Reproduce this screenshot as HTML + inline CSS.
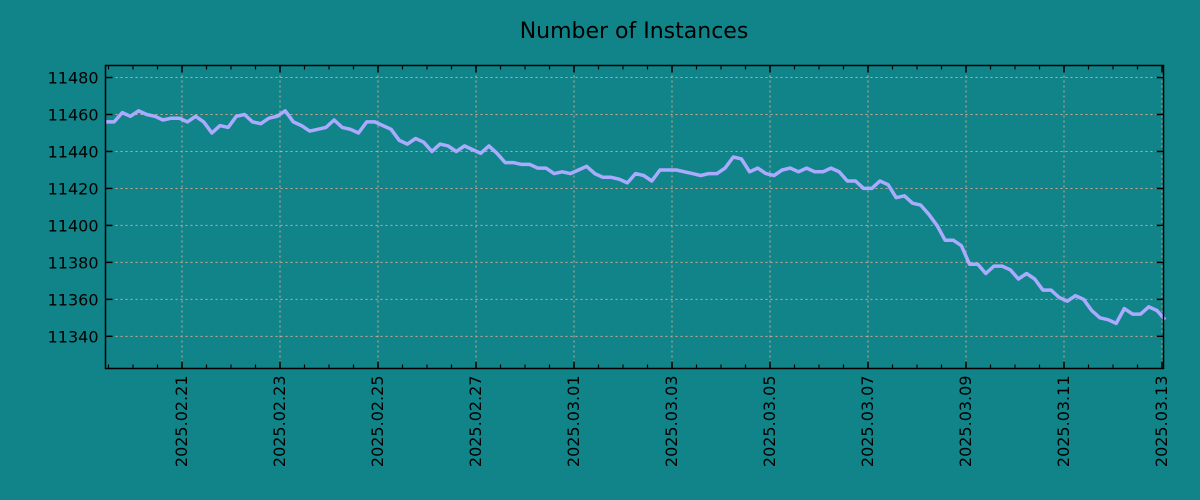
<!DOCTYPE html>
<html><head><meta charset="utf-8"><style>
html,body{margin:0;padding:0;background:#108488;}
svg{display:block;font-family:"DejaVu Sans","Liberation Sans",sans-serif;}
</style></head><body>
<svg id="chart" width="1200" height="500" viewBox="0 0 1200 500">
<rect x="0" y="0" width="1200" height="500" fill="#108488"/>
<text x="634" y="38" font-size="22" text-anchor="middle" fill="#000">Number of Instances</text>
<g id="grid"></g><g id="ticks"></g><g id="series"></g>
<rect x="105.5" y="65.5" width="1058" height="303" fill="none" stroke="#000" stroke-width="1.5"/>
</svg>
<script>
const startTime = Date.UTC(2025,1,19,10,46);
const endTime = Date.UTC(2025,2,13,1,30);
const values = [11456,11456,11461,11459,11462,11460,11459,11457,11458,11458,11456,11459,11456,11450,11454,11453,11459,11460,11456,11455,11458,11459,11462,11456,11454,11451,11452,11453,11457,11453,11452,11450,11456,11456,11454,11452,11446,11444,11447,11445,11440,11444,11443,11440,11443,11441,11439,11443,11439,11434,11434,11433,11433,11431,11431,11428,11429,11428,11430,11432,11428,11426,11426,11425,11423,11428,11427,11424,11430,11430,11430,11429,11428,11427,11428,11428,11431,11437,11436,11429,11431,11428,11427,11430,11431,11429,11431,11429,11429,11431,11429,11424,11424,11420,11420,11424,11422,11415,11416,11412,11411,11406,11400,11392,11392,11389,11379,11379,11374,11378,11378,11376,11371,11374,11371,11365,11365,11361,11359,11362,11360,11354,11350,11349,11347,11355,11352,11352,11356,11354,11349];
const yTicks = [11340,11360,11380,11400,11420,11440,11460,11480];
const xTickLabels = ["2025.02.21","2025.02.23","2025.02.25","2025.02.27","2025.03.01","2025.03.03","2025.03.05","2025.03.07","2025.03.09","2025.03.11","2025.03.13"];

const NS="http://www.w3.org/2000/svg";
const L=105.5,R=1163.5,T=65.5,B=368.5;
const DAY=86400000;
const x0=Date.UTC(2025,1,21), pxPerDay=49, xRef=182;
function xScale(t){return xRef+(t-x0)/DAY*pxPerDay;}
const yMin=11322.6,yMax=11486.5;
function yScale(v){return B-(v-yMin)/(yMax-yMin)*(B-T);}
function mk(tag,attrs,parent){const e=document.createElementNS(NS,tag);for(const k in attrs)e.setAttribute(k,attrs[k]);parent.appendChild(e);return e;}
const grid=document.getElementById('grid'),ticks=document.getElementById('ticks'),series=document.getElementById('series');

yTicks.forEach(v=>{
  const y=yScale(v);
  const g=mk('line',{x1:L,x2:R,y1:y,y2:y,stroke:'#d0a890','stroke-width':1,'stroke-dasharray':'2,3'},grid);
  
  
  mk('line',{x1:L,x2:L+7,y1:y,y2:y,stroke:'#000','stroke-width':1.5},ticks);
  mk('line',{x1:R-7,x2:R,y1:y,y2:y,stroke:'#000','stroke-width':1.5},ticks);
  const t=mk('text',{x:L-7,y:y+6,'font-size':16,'text-anchor':'end',fill:'#000'},ticks);
  t.textContent=v;
  
  
});
xTickLabels.forEach(s=>{
  const p=s.split('.');
  const x=xScale(Date.UTC(+p[0],+p[1]-1,+p[2]));
  const g=mk('line',{x1:x,x2:x,y1:T,y2:B,stroke:'#d0a890','stroke-width':1,'stroke-dasharray':'2,3'},grid);
  
  
  mk('line',{x1:x,x2:x,y1:B-7,y2:B,stroke:'#000','stroke-width':1.5},ticks);
  mk('line',{x1:x,x2:x,y1:T,y2:T+7,stroke:'#000','stroke-width':1.5},ticks);
  const t=mk('text',{x:0,y:0,'font-size':16,'text-anchor':'end',fill:'#000',transform:`translate(${x+5},${B+7}) rotate(-90)`},ticks);
  t.textContent=s;
  
  
});
for(let d=-1.5;d<=20.1;d+=0.5){
  const x=xRef+d*pxPerDay;
  if(x<L||x>R)continue;
  mk('line',{x1:x,x2:x,y1:B-4,y2:B,stroke:'#000','stroke-width':1.2},ticks);
  mk('line',{x1:x,x2:x,y1:T,y2:T+4,stroke:'#000','stroke-width':1.2},ticks);
}
const step=(endTime-startTime)/(values.length-1);
const pts=values.map((v,i)=>[xScale(startTime+i*step),yScale(v)]);
const path=mk('polyline',{points:pts.map(p=>p[0].toFixed(1)+','+p[1].toFixed(1)).join(' '),fill:'none',stroke:'#aaaaff','stroke-width':3.5,'stroke-linejoin':'round'},series);


</script>
</body></html>
